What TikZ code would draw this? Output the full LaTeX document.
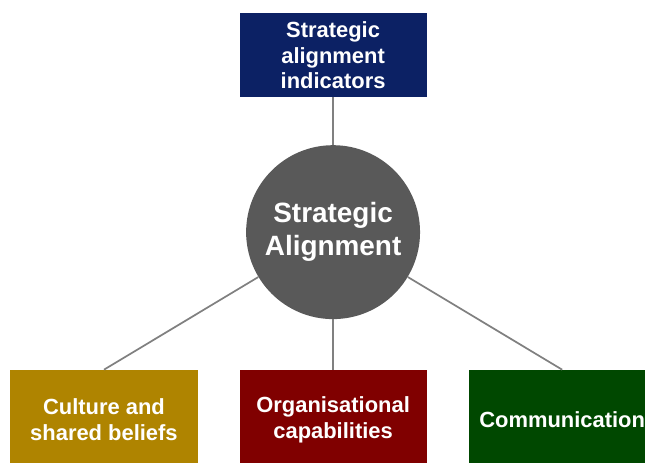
\documentclass[tikz,border=0pt]{standalone}
\usepackage{fontspec}
\setmainfont{Liberation Sans}
\usepackage{tikz}
\usetikzlibrary{calc}

\definecolor{navybox}{RGB}{12,33,100}
\definecolor{goldbox}{RGB}{175,132,0}
\definecolor{redbox}{RGB}{128,0,0}
\definecolor{greenbox}{RGB}{0,72,0}
\definecolor{hubgray}{RGB}{89,89,89}
\definecolor{linkgray}{RGB}{128,128,128}

\tikzset{
    topicbox/.style={rectangle, inner sep=0pt, minimum width=4.95cm, text=white, align=center,
        font=\bfseries\fontsize{16.5}{19.5}\selectfont},
    hubnode/.style={circle, fill=hubgray, minimum size=4.6cm, inner sep=0pt, text=white, align=center,
        font=\bfseries\fontsize{21}{24.75}\selectfont},
    link/.style={draw=linkgray, line width=1.3pt}
}

\begin{document}
\begin{tikzpicture}
                \useasboundingbox (-8.81, -6.085) rectangle (8.25, 6.14);

                \node[hubnode] (hub) at (0, 0) {Strategic\\Alignment};

                \node[topicbox, fill=navybox, minimum height=2.22cm] (indicators) at (0, 4.68) {Strategic\\alignment\\indicators};

                \node[topicbox, fill=goldbox, minimum height=2.65cm] (culture) at (-6.06, -4.97) {Culture and\\shared beliefs};
                \node[topicbox, fill=redbox, minimum height=2.65cm] (capabilities) at (0, -4.97) {Organisational\\capabilities};
                \node[topicbox, fill=greenbox, minimum height=2.65cm] (communication) at (6.06, -4.97) {Communication};

                % hub to indicators
                \draw[link] (hub) -- (indicators);
                % hub to culture
                \draw[link] (hub) -- (culture.north);
                % hub to capabilities
                \draw[link] (hub) -- (capabilities.north);
                % hub to communication
                \draw[link] (hub) -- (communication.north);
            \end{tikzpicture}
\end{document}
